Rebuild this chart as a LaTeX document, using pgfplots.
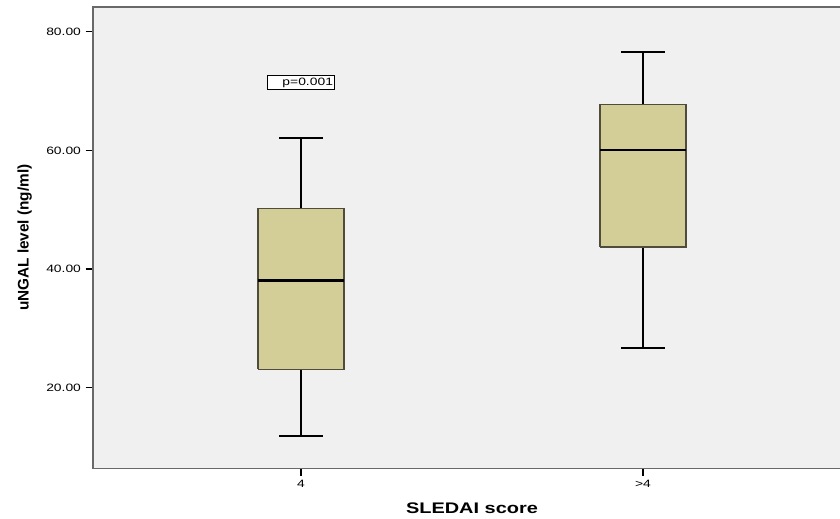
\documentclass[border=0pt]{standalone}
\usepackage{fontspec}
\setmainfont{Liberation Sans}[FakeStretch=1.3]
\newfontfamily\plainsans{Liberation Sans}
\usepackage{pgfplots}
\pgfplotsset{compat=1.18}
\usetikzlibrary{calc}
\definecolor{boxfill}{RGB}{211,206,152}
\definecolor{boxedge}{RGB}{80,76,60}
\definecolor{bgcol}{RGB}{240,240,240}
\definecolor{frmgray}{RGB}{105,105,105}
\begin{document}
\begin{tikzpicture}
\begin{axis}[
  scale only axis, width=568.5pt, height=346pt,
  xmin=0.392, xmax=2.608, ymin=6.42, ymax=84.16,
  axis line style={frmgray, line width=1.2pt},
  axis background/.style={fill=bgcol},
  xtick={1,2}, xticklabels={4,{>4}},
  xtick pos=bottom, ytick pos=left,
  ytick={20,40,60,80},
  tick align=outside, major tick length=5.5pt,
  tick style={black, line width=1pt},
  yticklabel style={/pgf/number format/.cd, fixed, fixed zerofill, precision=2, assume math mode=true},
  ticklabel style={font=\fontsize{8}{9}\selectfont},
  xlabel={SLEDAI score},
  ylabel={uNGAL level (ng/ml)},
  xlabel style={font=\bfseries\fontsize{11.5}{12}\selectfont, yshift=-4.5pt},
  ylabel style={font=\plainsans\bfseries\fontsize{11.5}{12}\selectfont, yshift=4pt},
]
% group "4": whiskers
\addplot[black, line width=1.3pt] coordinates {(1,50.2) (1,62.1)};
\addplot[black, line width=1.3pt] coordinates {(0.937,62.1) (1.063,62.1)};
\addplot[black, line width=1.3pt] coordinates {(1,23.1) (1,11.9)};
\addplot[black, line width=1.3pt] coordinates {(0.937,11.9) (1.063,11.9)};
\addplot[draw=boxedge, fill=boxfill, line width=1pt] coordinates {(0.8745,23.1) (1.1255,23.1) (1.1255,50.2) (0.8745,50.2) (0.8745,23.1)};
\addplot[black, line width=1.8pt] coordinates {(0.8745,38.1) (1.1255,38.1)};
% group ">4"
\addplot[black, line width=1.3pt] coordinates {(2,67.7) (2,76.6)};
\addplot[black, line width=1.3pt] coordinates {(1.937,76.6) (2.063,76.6)};
\addplot[black, line width=1.3pt] coordinates {(2,43.7) (2,26.7)};
\addplot[black, line width=1.3pt] coordinates {(1.937,26.7) (2.063,26.7)};
\addplot[draw=boxedge, fill=boxfill, line width=1pt] coordinates {(1.8745,43.7) (2.1255,43.7) (2.1255,67.7) (1.8745,67.7) (1.8745,43.7)};
\addplot[black, line width=1.8pt] coordinates {(1.8745,60.1) (2.1255,60.1)};
\node[draw=black, fill=white, line width=0.6pt, inner xsep=1pt, inner ysep=0pt, text width=48pt, align=right, minimum height=10.5pt, font=\fontsize{8}{9}\selectfont] at (axis cs:1,71.4) {p=0.001};
\coordinate (SW) at (rel axis cs:0,0);
\coordinate (NE) at (rel axis cs:0.9855,1);
\end{axis}
\pgfresetboundingbox
\path ($(SW)+(-69.75pt,-37.3pt)$) rectangle ($(NE)+(0pt,5.25pt)$);
\end{tikzpicture}
\end{document}
